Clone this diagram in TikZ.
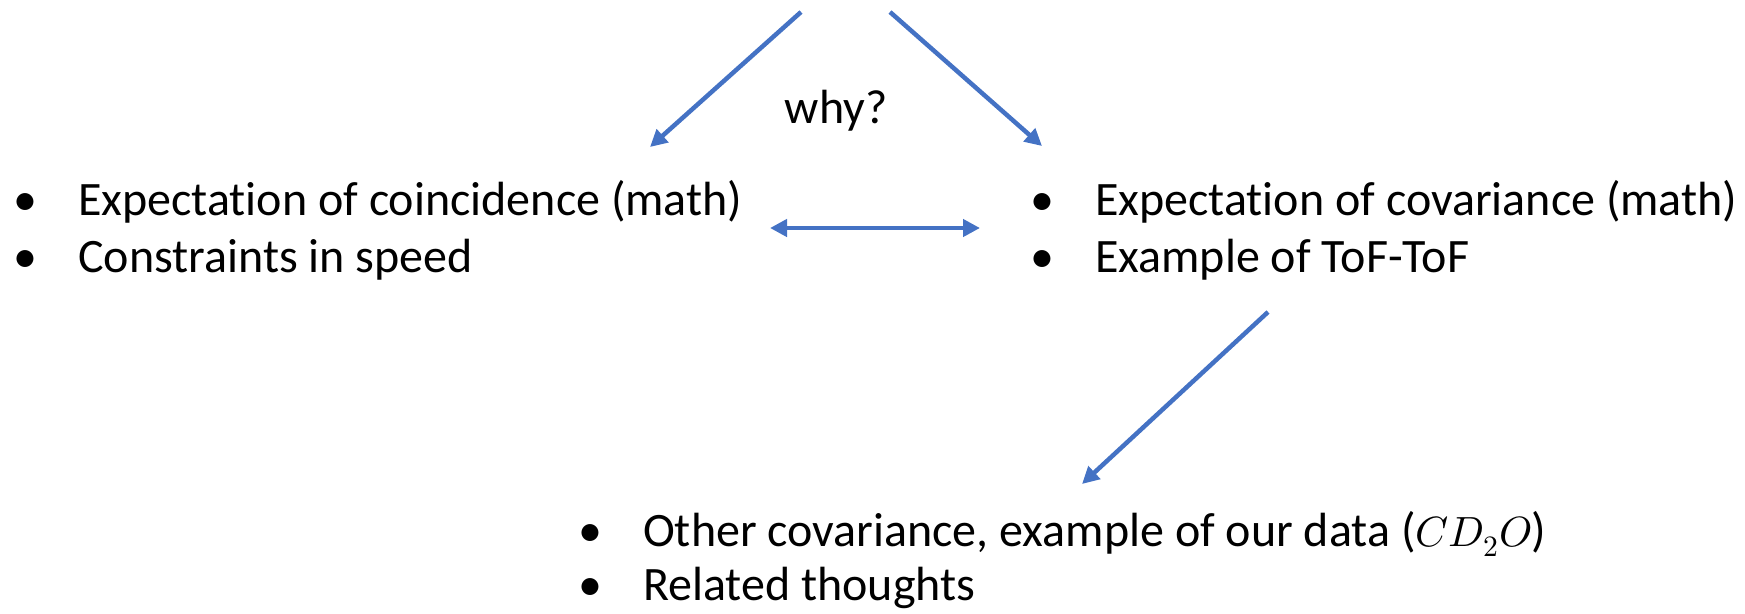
\documentclass[tikz,border=0pt]{standalone}
\usepackage{fontspec}
\usepackage{unicode-math}
\setmainfont{Carlito}[Ligatures=NoCommon]
\setmathfont{Latin Modern Math}[Scale=0.88]
\usetikzlibrary{arrows.meta}
\definecolor{pptblue}{HTML}{4472C4}
\newcommand{\bul}{\makebox[53pt][l]{\makebox[0pt][c]{•}}}
\tikzset{
  block/.style={anchor=base west, inner sep=0pt, align=left, font=\fontsize{48}{57}\selectfont},
  blockb/.style={anchor=base west, inner sep=0pt, align=left, font=\fontsize{48}{54}\selectfont},
  conn/.style={draw=pptblue, line width=4.5pt, -{Triangle[length=17pt,width=17pt]}},
  dconn/.style={draw=pptblue, line width=4.5pt, {Triangle[length=17pt,width=17pt]}-{Triangle[length=17pt,width=17pt]}}
}
\begin{document}
\begin{tikzpicture}[x=1pt,y=-1pt]
\useasboundingbox (0,0) rectangle (1745,613);
\node[block] (L) at (25,272) {\bul Expectation of coincidence (math)\\\bul Constraints in speed};
\node[block] (R) at (1042,272) {\bul Expectation of covariance (math)\\\bul Example of ToF-ToF};
\node[blockb] (B) at (590,600) {\bul Other covariance, example of our data ($CD_2O$)\\\bul Related thoughts};
\node[anchor=base, inner sep=0pt, font=\fontsize{48}{57}\selectfont] (why) at (836,123) {why?};
\coordinate (a1) at (801,12);
\coordinate (a2) at (650,147);
\coordinate (b1) at (890,12);
\coordinate (b2) at (1042,146);
\coordinate (c1) at (1268,312);
\coordinate (c2) at (1082,484);
\coordinate (d1) at (770,228);
\coordinate (d2) at (980,228);
\draw[conn] (a1) -- (a2);
\draw[conn] (b1) -- (b2);
\draw[conn] (c1) -- (c2);
\draw[dconn] (d1) -- (d2);
\end{tikzpicture}
\end{document}
